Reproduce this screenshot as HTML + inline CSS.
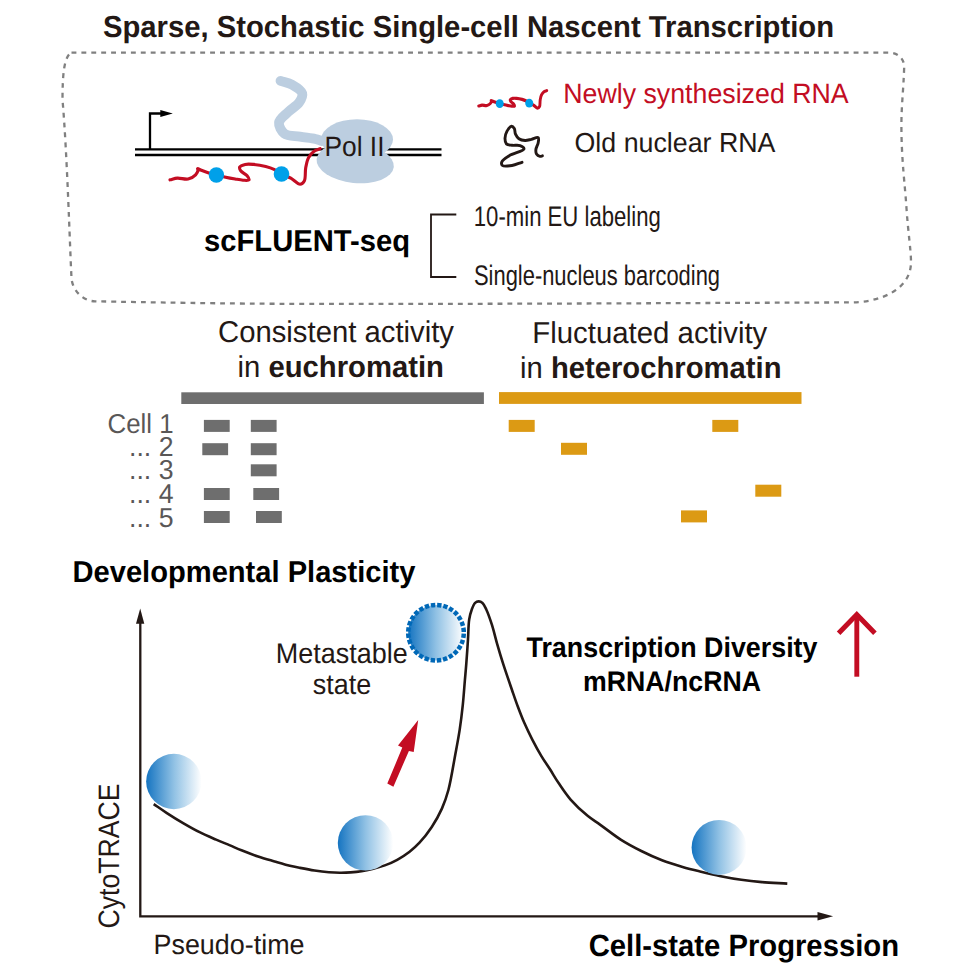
<!DOCTYPE html>
<html><head><meta charset="utf-8"><title>scFLUENT-seq graphical abstract</title>
<style>html,body{margin:0;padding:0;background:#fff;width:968px;height:968px;overflow:hidden}svg{display:block}</style>
</head><body>
<svg width="968" height="968" viewBox="0 0 968 968" font-family="'Liberation Sans', Arial, sans-serif" text-rendering="geometricPrecision">
<defs>
<linearGradient id="g1" x1="0" y1="0" x2="1" y2="0">
<stop offset="0" stop-color="#1574c1"/><stop offset="0.5" stop-color="#90c1e4"/><stop offset="1" stop-color="#ffffff"/>
</linearGradient>
</defs>
<rect width="968" height="968" fill="#fff"/>
<text x="103" y="36.6" font-size="30.3" font-weight="bold" fill="#231815" textLength="731" lengthAdjust="spacingAndGlyphs">Sparse, Stochastic Single-cell Nascent Transcription</text>
<path d="M71.5,52.6 H889 C897,52.6 904,58 904.2,66.4 C903.5,90 901.4,105 901.4,125 C901.4,160 905,185 906.4,207 C908,232 911,250 911,262 C911,290 880,302.4 850,302.4 C700,303 500,304.1 310,303.9 C220,303.7 150,302.3 95,301.3 C83,301.3 71.4,290 71.4,276 C70,250 67,150 62.5,100 C62.5,75 64,56 71.5,52.6 Z" fill="none" stroke="#808080" stroke-width="2.3" stroke-dasharray="4.9 5"/>
<g stroke="#000" stroke-width="2.4" fill="none"><line x1="135" y1="149.4" x2="330" y2="149.4"/><line x1="135" y1="155" x2="330" y2="155"/><line x1="380" y1="149.4" x2="441.5" y2="149.4"/><line x1="380" y1="155" x2="441.5" y2="155"/><polyline points="150,149 150,113.5 161,113.5" stroke-width="2.3"/></g>
<polygon points="160.3,109.9 172.8,113.4 160.3,117" fill="#000"/>
<path d="M280.50,80.90 C284.37,82.17 288.55,82.71 292.10,84.70 C295.81,86.78 301.29,90.04 302.20,93.30 C302.98,96.11 301.02,99.74 299.10,102.60 C296.79,106.05 291.65,108.55 288.30,111.90 C284.95,115.25 279.48,118.93 279.00,122.70 C278.56,126.19 281.32,131.24 284.40,133.60 C287.91,136.29 294.72,135.80 299.90,136.70 C305.06,137.60 311.35,138.09 315.40,139.00 C318.09,139.60 319.80,140.33 322.00,141.00" fill="none" stroke="#bccee0" stroke-width="9.8" stroke-linecap="round"/>
<g fill="#bccee0"><ellipse cx="357" cy="139.5" rx="36" ry="20.3"/><ellipse cx="355.2" cy="163" rx="38.8" ry="20" transform="rotate(6 355.2 163)"/></g>
<text x="324.5" y="155.5" font-size="27.9" fill="#231815" textLength="60" lengthAdjust="spacingAndGlyphs">Pol II</text>
<path d="M170.00,179.80 C172.47,179.23 174.69,178.29 177.40,178.10 C180.62,177.87 184.94,179.68 188.10,179.00 C190.93,178.39 193.93,176.51 195.60,174.80 C196.89,173.48 197.85,171.46 198.00,170.30 C198.09,169.62 197.36,168.80 197.60,168.60 C197.97,168.29 199.91,169.70 201.40,170.30 C203.45,171.13 206.30,172.22 208.80,173.00 C211.30,173.78 213.82,174.36 216.40,175.00 C219.05,175.66 221.61,176.28 224.50,176.90 C227.81,177.61 231.91,178.42 235.20,179.00 C238.00,179.49 240.56,180.05 243.00,180.20 C245.12,180.33 248.45,180.88 249.00,180.00 C249.48,179.23 248.15,177.14 247.10,175.80 C245.69,174.00 241.74,172.47 240.60,170.70 C239.83,169.50 239.23,167.99 239.70,167.00 C240.30,165.75 243.11,164.87 245.20,164.40 C247.65,163.85 250.56,164.14 253.60,164.40 C257.28,164.72 262.08,165.58 265.70,166.50 C268.76,167.28 271.37,168.05 274.00,169.30 C276.64,170.55 278.81,172.57 281.50,174.00 C284.38,175.53 287.77,176.45 290.80,178.10 C293.97,179.82 297.63,184.29 300.10,184.20 C301.80,184.14 303.33,182.72 304.30,181.00 C305.84,178.28 304.93,171.96 305.70,167.90 C306.39,164.26 306.97,160.58 308.50,157.70 C309.88,155.11 312.00,152.72 314.10,151.20 C315.93,149.88 318.10,149.53 320.10,148.70" fill="none" stroke="#c30d23" stroke-width="3.1" stroke-linecap="round" stroke-linejoin="round"/>
<circle cx="216.4" cy="175" r="7.7" fill="#00a0e9"/><circle cx="281.5" cy="174" r="7.8" fill="#00a0e9"/>
<g transform="translate(401.7,17.15) scale(0.453,0.494)"><path d="M170.00,179.80 C172.47,179.23 174.69,178.29 177.40,178.10 C180.62,177.87 184.94,179.68 188.10,179.00 C190.93,178.39 193.93,176.51 195.60,174.80 C196.89,173.48 197.85,171.46 198.00,170.30 C198.09,169.62 197.36,168.80 197.60,168.60 C197.97,168.29 199.91,169.70 201.40,170.30 C203.45,171.13 206.30,172.22 208.80,173.00 C211.30,173.78 213.82,174.36 216.40,175.00 C219.05,175.66 221.61,176.28 224.50,176.90 C227.81,177.61 231.91,178.42 235.20,179.00 C238.00,179.49 240.56,180.05 243.00,180.20 C245.12,180.33 248.45,180.88 249.00,180.00 C249.48,179.23 248.15,177.14 247.10,175.80 C245.69,174.00 241.74,172.47 240.60,170.70 C239.83,169.50 239.23,167.99 239.70,167.00 C240.30,165.75 243.11,164.87 245.20,164.40 C247.65,163.85 250.56,164.14 253.60,164.40 C257.28,164.72 262.08,165.58 265.70,166.50 C268.76,167.28 271.37,168.05 274.00,169.30 C276.64,170.55 278.81,172.57 281.50,174.00 C284.38,175.53 287.77,176.45 290.80,178.10 C293.97,179.82 297.63,184.29 300.10,184.20 C301.80,184.14 303.33,182.72 304.30,181.00 C305.84,178.28 304.93,171.96 305.70,167.90 C306.39,164.26 306.97,160.58 308.50,157.70 C309.88,155.11 312.00,152.72 314.10,151.20 C315.93,149.88 318.10,149.53 320.10,148.70" fill="none" stroke="#c30d23" stroke-width="6.4" stroke-linecap="round" stroke-linejoin="round"/><circle cx="216.4" cy="175" r="8.9" fill="#00a0e9"/><circle cx="281.5" cy="174" r="8.9" fill="#00a0e9"/></g>
<text x="563.2" y="102.6" font-size="27.9" fill="#c30d23" textLength="285.5" lengthAdjust="spacingAndGlyphs">Newly synthesized RNA</text>
<path d="M522.00,162.30 C518.67,163.37 515.34,164.98 512.00,165.50 C508.81,166.00 503.81,166.69 502.40,165.50 C501.54,164.77 501.36,163.20 501.80,162.00 C502.53,160.02 506.15,157.73 509.20,155.80 C513.16,153.30 523.71,151.09 524.00,149.00 C524.16,147.81 521.70,146.26 520.00,145.60 C517.90,144.78 514.41,145.64 512.00,145.30 C509.95,145.01 507.57,145.07 506.40,143.90 C505.22,142.72 504.97,140.18 505.00,138.20 C505.03,136.03 505.81,133.40 506.90,131.40 C507.98,129.42 510.11,126.37 511.50,126.25 C512.51,126.17 513.64,127.42 514.30,128.50 C515.14,129.87 514.72,132.48 515.50,134.20 C516.27,135.90 517.38,137.70 518.90,138.75 C520.52,139.87 523.01,140.41 525.10,140.50 C527.18,140.59 529.27,139.77 531.40,139.30 C533.63,138.81 537.16,136.79 538.20,137.60 C539.09,138.29 538.50,140.90 538.20,142.70 C537.85,144.83 536.10,147.43 535.90,149.50 C535.74,151.16 535.78,152.94 536.50,154.10 C537.18,155.19 538.81,156.20 539.90,156.40 C540.76,156.56 541.57,156.00 542.40,155.80" fill="none" stroke="#231815" stroke-width="2.9" stroke-linecap="round" stroke-linejoin="round"/>
<text x="574.5" y="152.2" font-size="27.5" fill="#231815" textLength="201" lengthAdjust="spacingAndGlyphs">Old nuclear RNA</text>
<text x="204" y="250.8" font-size="30.2" font-weight="bold" fill="#000" textLength="206" lengthAdjust="spacingAndGlyphs">scFLUENT-seq</text>
<polyline points="456.3,214.5 431,214.5 431,277 456.3,277" fill="none" stroke="#231815" stroke-width="1.8"/>
<text x="473.8" y="226" font-size="28.3" fill="#231815" textLength="187" lengthAdjust="spacingAndGlyphs">10-min EU labeling</text>
<text x="474" y="284.9" font-size="28.3" fill="#231815" textLength="246" lengthAdjust="spacingAndGlyphs">Single-nucleus barcoding</text>
<text x="218" y="341.9" font-size="30.2" fill="#231815" textLength="236" lengthAdjust="spacingAndGlyphs">Consistent activity</text>
<text x="237.5" y="377.1" font-size="30.2" fill="#231815" textLength="206.5" lengthAdjust="spacingAndGlyphs">in <tspan font-weight="bold">euchromatin</tspan></text>
<text x="532.3" y="343" font-size="30.2" fill="#231815" textLength="235" lengthAdjust="spacingAndGlyphs">Fluctuated activity</text>
<text x="520" y="377.6" font-size="30.2" fill="#231815" textLength="261.5" lengthAdjust="spacingAndGlyphs">in <tspan font-weight="bold">heterochromatin</tspan></text>
<rect x="181.3" y="392.3" width="302.6" height="11.7" fill="#6e6e6e"/>
<rect x="499" y="392.1" width="302.5" height="11.8" fill="#dc9a14"/>
<text x="107.5" y="432.5" font-size="27.4" fill="#595757" textLength="66" lengthAdjust="spacingAndGlyphs">Cell 1</text>
<text x="129" y="455.6" font-size="27.4" fill="#595757" textLength="44.5" lengthAdjust="spacingAndGlyphs">... 2</text>
<text x="129" y="479.4" font-size="27.4" fill="#595757" textLength="44.5" lengthAdjust="spacingAndGlyphs">... 3</text>
<text x="129" y="503.1" font-size="27.4" fill="#595757" textLength="44.5" lengthAdjust="spacingAndGlyphs">... 4</text>
<text x="129" y="526.5" font-size="27.4" fill="#595757" textLength="44.5" lengthAdjust="spacingAndGlyphs">... 5</text>
<rect x="203.9" y="419.9" width="25.8" height="12" fill="#6e6e6e"/>
<rect x="250.8" y="419.9" width="25.8" height="12" fill="#6e6e6e"/>
<rect x="202.3" y="443.2" width="25.8" height="12" fill="#6e6e6e"/>
<rect x="250.8" y="443.2" width="25.8" height="12" fill="#6e6e6e"/>
<rect x="250.8" y="464.3" width="25.8" height="12" fill="#6e6e6e"/>
<rect x="203.9" y="488" width="25.8" height="12" fill="#6e6e6e"/>
<rect x="253.3" y="488" width="25.8" height="12" fill="#6e6e6e"/>
<rect x="203.9" y="511" width="25.8" height="12" fill="#6e6e6e"/>
<rect x="256" y="511" width="25.8" height="12" fill="#6e6e6e"/>
<rect x="508.7" y="419.9" width="26" height="12" fill="#dc9a14"/>
<rect x="712.3" y="419.9" width="26" height="12" fill="#dc9a14"/>
<rect x="561" y="442.8" width="26" height="12" fill="#dc9a14"/>
<rect x="755.3" y="484.7" width="26" height="12" fill="#dc9a14"/>
<rect x="681" y="510.4" width="26" height="12" fill="#dc9a14"/>
<text x="72.5" y="581.6" font-size="30.3" font-weight="bold" fill="#000" textLength="343" lengthAdjust="spacingAndGlyphs">Developmental Plasticity</text>
<polyline points="140.3,620 140.3,916.3 820,916.3" fill="none" stroke="#231815" stroke-width="2.3"/>
<polygon points="136,623.7 140.2,608.4 144.3,623.7" fill="#231815"/>
<polygon points="817.5,912.1 833.1,916.2 817.5,920.4" fill="#231815"/>
<text transform="translate(119.4,928.5) rotate(-90)" font-size="29.5" fill="#231815" textLength="145" lengthAdjust="spacingAndGlyphs">CytoTRACE</text>
<text x="153.5" y="953.8" font-size="27.9" fill="#231815" textLength="151" lengthAdjust="spacingAndGlyphs">Pseudo-time</text>
<text x="588.7" y="955.8" font-size="30.8" font-weight="bold" fill="#000" textLength="310.3" lengthAdjust="spacingAndGlyphs">Cell-state Progression</text>
<text x="526.5" y="657.3" font-size="28.2" font-weight="bold" fill="#000" textLength="291" lengthAdjust="spacingAndGlyphs">Transcription Diversity</text>
<text x="583" y="690.7" font-size="28.2" font-weight="bold" fill="#000" textLength="178" lengthAdjust="spacingAndGlyphs">mRNA/ncRNA</text>
<text x="275.8" y="662.5" font-size="28.5" fill="#231815" textLength="132" lengthAdjust="spacingAndGlyphs">Metastable</text>
<text x="312.7" y="694.3" font-size="28.5" fill="#231815" textLength="58.5" lengthAdjust="spacingAndGlyphs">state</text>
<polyline points="838.6,633.2 856.8,614.5 874.9,633.2" fill="none" stroke="#c30d23" stroke-width="5"/>
<line x1="856.8" y1="616" x2="856.8" y2="676.7" stroke="#c30d23" stroke-width="4.9"/>
<polygon points="418.2,720.1 398,745.5 402.3,747.6 387.3,783.6 393.4,786.7 408.9,750.9 413.7,752.1" fill="#c30d23"/>
<path d="M153.70,804.10 C157.97,807.00 161.92,809.83 166.50,812.80 C171.64,816.14 177.53,819.84 183.10,823.10 C188.57,826.30 194.04,829.43 199.60,832.20 C205.04,834.92 210.82,837.32 216.10,839.60 C220.92,841.68 225.59,843.54 230.00,845.40 C234.02,847.09 237.30,848.62 241.50,850.30 C246.51,852.30 252.54,854.64 258.10,856.50 C263.58,858.33 269.09,859.81 274.60,861.40 C280.09,862.98 286.43,864.85 291.10,866.00 C294.51,866.84 296.67,867.25 300.00,867.90 C304.24,868.73 309.66,869.78 314.50,870.50 C319.30,871.21 324.43,871.83 328.90,872.20 C332.78,872.52 336.17,872.67 339.80,872.70 C343.41,872.73 347.00,872.63 350.60,872.40 C354.23,872.17 357.88,871.85 361.50,871.30 C365.15,870.75 368.67,870.03 372.40,869.10 C376.42,868.10 380.72,866.92 384.80,865.40 C388.99,863.84 393.15,862.02 397.20,859.80 C401.42,857.48 405.81,854.63 409.60,851.70 C413.21,848.91 416.19,846.27 419.50,842.70 C423.52,838.37 427.93,832.76 431.60,827.20 C435.42,821.42 439.07,814.92 441.90,808.60 C444.63,802.51 446.43,797.28 448.40,790.00 C451.07,780.12 453.29,765.20 455.30,754.40 C456.97,745.40 458.45,737.88 459.70,729.60 C460.95,721.35 461.93,713.08 462.80,704.80 C463.67,696.54 464.27,687.40 464.90,680.00 C465.41,674.00 465.84,669.69 466.30,663.70 C466.87,656.36 467.50,646.92 468.00,639.20 C468.45,632.28 468.35,624.90 469.20,619.50 C469.81,615.64 470.61,612.62 471.70,609.70 C472.64,607.17 473.67,604.25 475.10,602.90 C476.12,601.94 477.40,601.42 478.60,601.40 C479.86,601.38 481.35,601.91 482.50,602.90 C484.08,604.25 485.11,606.94 486.40,609.70 C488.22,613.61 490.10,619.10 491.80,624.40 C493.74,630.45 495.32,637.55 497.20,644.10 C499.08,650.65 500.87,656.71 503.10,663.70 C505.70,671.84 509.33,682.26 512.00,690.00 C514.12,696.15 515.75,701.01 517.80,706.50 C519.88,712.05 522.00,717.62 524.40,723.10 C526.83,728.65 529.49,734.14 532.30,739.60 C535.15,745.14 538.31,750.96 541.40,756.10 C544.22,760.80 547.16,764.84 550.00,769.30 C552.89,773.83 555.40,778.35 558.60,783.10 C562.18,788.42 565.96,794.30 570.60,799.60 C575.62,805.34 582.49,811.66 587.90,816.10 C592.15,819.59 595.44,821.35 600.00,824.60 C605.99,828.88 613.67,835.13 620.70,839.60 C627.45,843.89 634.35,847.52 641.30,851.00 C648.12,854.41 655.04,857.61 662.00,860.30 C668.80,862.93 675.99,865.07 682.60,867.00 C688.62,868.75 693.94,870.03 700.00,871.50 C706.59,873.10 713.79,874.81 720.70,876.20 C727.56,877.58 734.41,878.82 741.30,879.80 C748.18,880.78 754.75,881.48 762.00,882.10 C770.00,882.78 778.87,883.10 787.30,883.60" fill="none" stroke="#231815" stroke-width="2.6"/>
<circle cx="173.85" cy="781.5" r="27.7" fill="url(#g1)"/>
<circle cx="365.5" cy="842.9" r="27.7" fill="url(#g1)"/>
<circle cx="719.1" cy="847.4" r="27.5" fill="url(#g1)"/>
<circle cx="436" cy="632.7" r="27.8" fill="url(#g1)" stroke="#0068b7" stroke-width="4.5" stroke-dasharray="4.3 1.938" stroke-dashoffset="5.269"/>
</svg>
</body></html>
